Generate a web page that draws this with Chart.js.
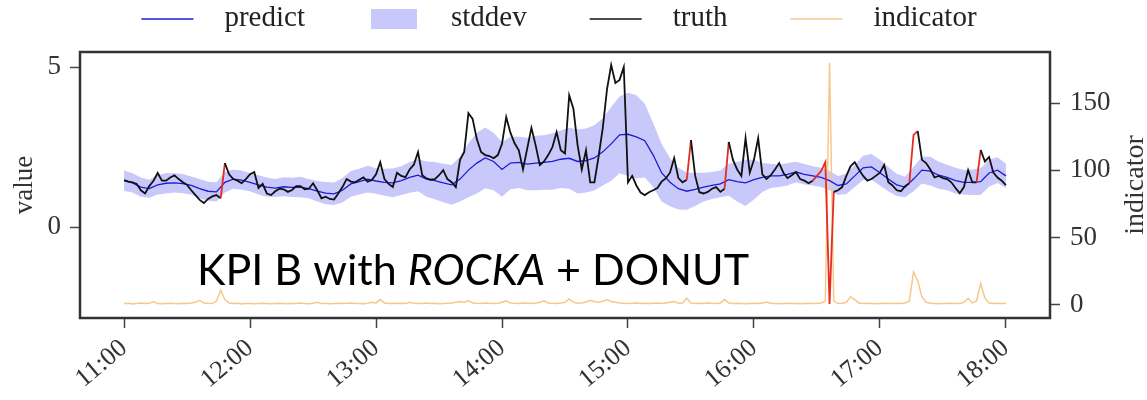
<!DOCTYPE html>
<html>

<head>
  <meta charset="utf-8">
  <title>KPI B with ROCKA + DONUT</title>
  <script src="https://cdn.jsdelivr.net/npm/chart.js"></script>
  <style>
    body {
      margin: 0;
      background: #fff;
    }

    /* fixed size, the picture is 1147x400 */
    #wrap {
      width: 1147px;
      height: 400px;
    }
  </style>
</head>

<body>
  <div id="wrap">
    <canvas id="kpiChart" width="1147" height="400"></canvas>
  </div>

  <script>
    // x axis is minutes after 11:00
    const hourTicks = [0, 60, 120, 180, 240, 300, 360, 420];
    const hourLabels = ['11:00', '12:00', '13:00', '14:00', '15:00', '16:00', '17:00', '18:00'];
    const valueTicks = [0, 5];
    const indicatorTicks = [0, 50, 100, 150];

    // truth + indicator sampled every 2 min, predict + stddev every 4 min
    const FINE_STEP = 2;
    const COARSE_STEP = 4;

    const truth = [
      1.47, 1.42, 1.40, 1.35, 1.15, 1.05, 1.28, 1.45, 1.69, 1.45,
      1.45, 1.55, 1.62, 1.50, 1.40, 1.32, 1.15, 1.00, 0.85, 0.75,
      0.88, 0.96, 1.00, 0.90, 2.00, 1.65, 1.50, 1.45, 1.37, 1.50,
      1.65, 1.72, 1.22, 1.35, 1.05, 1.00, 1.12, 1.20, 1.18, 1.10,
      1.16, 1.28, 1.28, 1.18, 1.20, 1.37, 1.15, 0.90, 0.95, 0.88,
      0.86, 1.05, 1.25, 1.50, 1.42, 1.40, 1.48, 1.55, 1.42, 1.47,
      1.65, 2.03, 1.50, 1.35, 1.25, 1.70, 1.60, 1.56, 1.80, 1.95,
      2.34, 1.62, 1.52, 1.48, 1.50, 1.62, 1.78, 1.50, 1.40, 1.25,
      2.10, 2.35, 3.56, 3.38, 2.75, 2.35, 2.25, 2.22, 2.15, 2.25,
      2.60, 3.44, 2.95, 2.62, 2.40, 1.80, 2.45, 3.10, 2.56, 1.94,
      2.05, 2.25, 2.50, 2.97, 2.40, 2.30, 4.12, 3.70, 2.56, 1.80,
      2.40, 1.40, 1.40, 2.20, 3.10, 4.30, 5.06, 4.50, 4.60, 5.00,
      1.40, 1.60, 1.30, 1.08, 1.00, 1.09, 1.15, 1.22, 1.42, 1.52,
      1.70, 2.16, 1.53, 1.40, 1.48, 2.72, 1.60, 1.09, 1.05, 1.10,
      1.20, 1.25, 1.10, 1.20, 2.66, 2.10, 1.80, 1.60, 2.78, 1.70,
      2.10, 2.78, 1.65, 1.50, 1.62, 1.80, 2.00, 1.70, 1.53, 1.62,
      1.72, 1.50, 1.45, 1.37, 1.45, 1.60, 1.75, 2.03, -2.40, 1.10,
      1.15, 1.25, 1.60, 1.90, 2.03, 1.80, 1.60, 1.45, 1.50, 1.60,
      1.70, 1.94, 1.40, 1.30, 1.15, 1.12, 1.28, 1.37, 2.88, 3.00,
      2.10, 2.00, 1.80, 1.55, 1.60, 1.53, 1.50, 1.40, 1.22, 1.06,
      1.25, 1.78, 1.40, 1.40, 2.41, 2.05, 2.19, 1.70, 1.55, 1.45,
      1.31
    ];

    const indicator = [
      1.0, 1.2, 0.8, 1.0, 1.5, 1.0, 1.2, 2.5, 1.0, 0.8,
      1.0, 1.2, 1.0, 0.9, 1.3, 1.0, 1.5, 2.0, 3.5, 1.5,
      1.2, 1.0, 3.0, 11.0, 4.0, 1.5, 1.0, 1.2, 0.8, 1.0,
      1.1, 0.9, 1.0, 1.3, 1.0, 0.8, 1.0, 1.2, 1.0, 0.9,
      1.1, 1.0, 1.4, 1.0, 0.9, 1.2, 2.0, 1.0, 1.1, 0.9,
      1.0, 1.3, 1.0, 1.2, 1.5, 1.0, 1.1, 0.9, 1.2, 2.0,
      1.5, 4.0, 1.5, 1.0, 1.2, 1.0, 1.3, 1.0, 2.0, 1.2,
      1.0, 1.1, 1.5, 1.0, 1.2, 0.9, 1.0, 1.3, 1.5, 2.0,
      2.5, 2.0, 3.2, 1.5, 1.2, 1.0, 1.5, 1.2, 1.0, 1.3,
      2.0, 3.0, 1.5, 1.2, 1.0, 1.4, 1.2, 1.0, 1.5, 1.8,
      3.0, 1.5, 1.2, 1.0, 1.5, 2.0, 4.5, 2.0, 1.2, 1.5,
      2.2, 3.5, 2.5, 2.0, 2.8, 4.0, 2.5, 2.0, 1.5, 1.2,
      1.0, 1.2, 1.5, 1.0, 1.2, 1.0, 1.3, 1.5, 1.0, 1.5,
      2.0, 2.5, 1.2, 1.5, 5.0, 1.5, 1.0, 1.2, 1.0, 1.5,
      1.2, 1.0, 1.5, 4.0, 1.5, 1.0, 1.2, 1.0, 0.8, 1.0,
      1.2, 1.0, 1.5, 2.2, 1.2, 1.0, 0.8, 1.0, 1.2, 1.0,
      1.0, 0.8, 1.0, 1.2, 1.0, 1.0, 1.5, 3.0, 180.0, 3.0,
      1.0, 1.2, 2.0, 6.0, 4.0, 1.5, 1.0, 1.2, 1.0, 0.8,
      1.0, 1.2, 1.0, 1.0, 1.2, 1.0, 1.5, 3.0, 24.5, 18.0,
      6.0, 2.0, 1.2, 1.0, 0.8, 1.0, 1.0, 1.2, 1.0, 1.0,
      2.0, 5.0, 1.5, 3.0, 16.0, 5.0, 1.5, 1.0, 1.2, 1.0,
      1.0
    ];

    const predict = [
      1.45, 1.38, 1.25, 1.20, 1.32, 1.37, 1.38, 1.36, 1.30, 1.20,
      1.12, 1.10, 1.40, 1.50, 1.47, 1.40, 1.32, 1.25, 1.22, 1.26,
      1.24, 1.25, 1.20, 1.12, 1.06, 1.04, 1.15, 1.35, 1.42, 1.50,
      1.44, 1.40, 1.38, 1.45, 1.55, 1.62, 1.50, 1.45, 1.38, 1.32,
      1.50, 1.78, 2.00, 2.16, 2.05, 1.80, 2.00, 2.02, 1.97, 2.00,
      2.02, 2.05, 2.12, 2.15, 2.05, 2.08, 2.16, 2.35, 2.60, 2.88,
      2.90, 2.82, 2.70, 2.25, 1.70, 1.40, 1.20, 1.12, 1.18, 1.25,
      1.30, 1.35, 1.48, 1.42, 1.38, 1.48, 1.55, 1.60, 1.60, 1.65,
      1.72, 1.65, 1.60, 1.55, 1.45, 1.30, 1.35, 1.60, 1.85, 1.88,
      1.70, 1.50, 1.32, 1.25, 1.50, 1.78, 1.75, 1.62, 1.55, 1.45,
      1.40, 1.40, 1.42, 1.69, 1.78, 1.60
    ];

    const stddev = [
      0.32, 0.30, 0.30, 0.28, 0.30, 0.32, 0.30, 0.30, 0.28, 0.30,
      0.30, 0.30, 0.32, 0.30, 0.30, 0.28, 0.30, 0.30, 0.28, 0.30,
      0.30, 0.32, 0.30, 0.32, 0.35, 0.35, 0.38, 0.40, 0.40, 0.42,
      0.40, 0.42, 0.45, 0.45, 0.48, 0.50, 0.55, 0.58, 0.60, 0.62,
      0.70, 0.85, 0.95, 0.95, 0.90, 0.85, 0.82, 0.80, 0.82, 0.85,
      0.85, 0.88, 0.90, 0.95, 1.00, 1.00, 1.02, 1.05, 1.15, 1.20,
      1.30, 1.30, 1.15, 1.00, 0.90, 0.75, 0.65, 0.58, 0.52, 0.45,
      0.42, 0.42, 0.50, 0.62, 0.72, 0.62, 0.45, 0.38, 0.35, 0.35,
      0.32, 0.32, 0.30, 0.30, 0.30, 0.30, 0.32, 0.35, 0.38, 0.40,
      0.40, 0.38, 0.35, 0.32, 0.38, 0.42, 0.45, 0.42, 0.40, 0.40,
      0.38, 0.40, 0.42, 0.42, 0.40, 0.38
    ];

    // segments of the truth line flagged as anomalies (start index)
    const anomalySegments = [23, 134, 143, 164, 165, 166, 167, 168, 187, 188, 203];

    const captionParts = [
      { text: 'KPI B with ', italic: false },
      { text: 'ROCKA', italic: true },
      { text: ' + DONUT', italic: false }
    ];

    const SERIF = '"Liberation Serif", "DejaVu Serif", serif';
    const RED = 'rgb(228, 45, 30)';
    const BLUE = 'rgb(28, 28, 215)';
    const ORANGE = 'rgb(246, 200, 140)';
    const BAND = 'rgba(110, 110, 245, 0.38)';

    const fine = arr => arr.map((v, i) => ({ x: i * FINE_STEP, y: v }));
    const coarse = arr => arr.map((v, i) => ({ x: i * COARSE_STEP, y: v }));

    // legend drawn by hand so spacing can follow the matplotlib one
    const legendRow = {
      id: 'legendRow',
      afterDraw(chart) {
        const ctx = chart.ctx;
        const items = chart.data.datasets
          .filter(d => d.legendRank !== undefined)
          .sort((a, b) => a.legendRank - b.legendRank);
        const swatchW = 52, gapText = 31, gapItem = 63, rowY = 19;
        ctx.save();
        ctx.font = '29px ' + SERIF;
        const widths = items.map(d => ctx.measureText(d.label).width);
        const total = widths.reduce((s, w) => s + w, 0) + items.length * (swatchW + gapText) + (items.length - 1) * gapItem;
        let x = (chart.chartArea.left + chart.chartArea.right) / 2 - total / 2 - 6;
        items.forEach((d, i) => {
          if (d.legendBox) {
            ctx.fillStyle = d.backgroundColor;
            ctx.fillRect(x + 3, rowY - 10, swatchW - 6, 20);
          } else {
            ctx.strokeStyle = d.borderColor;
            ctx.lineWidth = 1.6;
            ctx.beginPath();
            ctx.moveTo(x, rowY);
            ctx.lineTo(x + swatchW, rowY);
            ctx.stroke();
          }
          ctx.fillStyle = '#222';
          ctx.textBaseline = 'middle';
          ctx.fillText(d.label, x + swatchW + gapText, rowY - 1);
          x += swatchW + gapText + widths[i] + gapItem;
        });
        ctx.restore();
      }
    };

    // frame, right axis title and the caption
    const decorations = {
      id: 'decorations',
      afterDraw(chart) {
        const ctx = chart.ctx;
        const a = chart.chartArea;
        ctx.save();
        ctx.strokeStyle = '#333';
        ctx.lineWidth = 2.5;
        ctx.strokeRect(a.left, a.top, a.right - a.left, a.bottom - a.top);

        ctx.fillStyle = '#333';
        ctx.font = '28px ' + SERIF;
        ctx.textAlign = 'center';
        ctx.textBaseline = 'middle';
        ctx.translate(1136, (a.top + a.bottom) / 2);
        ctx.rotate(-Math.PI / 2);
        ctx.fillText('indicator', 0, 0);
        ctx.restore();

        ctx.save();
        ctx.fillStyle = '#000';
        ctx.textBaseline = 'alphabetic';
        let x = 197;
        captionParts.forEach(p => {
          ctx.font = (p.italic ? 'italic ' : '') + '43px Lato, "Open Sans", sans-serif';
          ctx.fillText(p.text, x, 285);
          x += ctx.measureText(p.text).width;
        });
        ctx.restore();
      }
    };

    const tickGrid = {
      drawOnChartArea: false,
      drawTicks: true,
      tickLength: 10,
      tickColor: '#444',
      tickWidth: 1.5
    };

    const chart = new Chart(document.getElementById('kpiChart'), {
      type: 'line',
      data: {
        datasets: [
          {
            label: 'truth',
            legendRank: 2,
            data: fine(truth),
            borderColor: '#111',
            borderWidth: 1.8,
            pointRadius: 0,
            tension: 0,
            yAxisID: 'y',
            segment: {
              borderColor: c => anomalySegments.includes(c.p0DataIndex) ? RED : undefined
            }
          },
          {
            label: 'predict',
            legendRank: 0,
            data: coarse(predict),
            borderColor: BLUE,
            borderWidth: 1.3,
            pointRadius: 0,
            yAxisID: 'y'
          },
          {
            label: 'indicator',
            legendRank: 3,
            data: fine(indicator),
            borderColor: ORANGE,
            borderWidth: 1.5,
            pointRadius: 0,
            yAxisID: 'y1'
          },
          {
            label: 'stddev',
            legendRank: 1,
            legendBox: true,
            data: coarse(predict.map((p, i) => p + stddev[i])),
            borderWidth: 0,
            borderColor: 'rgba(0,0,0,0)',
            backgroundColor: BAND,
            pointRadius: 0,
            fill: '+1',
            yAxisID: 'y'
          },
          {
            label: 'stddev lower',
            data: coarse(predict.map((p, i) => p - stddev[i])),
            borderWidth: 0,
            borderColor: 'rgba(0,0,0,0)',
            pointRadius: 0,
            fill: false,
            yAxisID: 'y'
          }
        ]
      },
      options: {
        responsive: false,
        animation: false,
        devicePixelRatio: 1,
        layout: {
          padding: { top: 52, left: 0, right: 0, bottom: 0 }
        },
        plugins: {
          legend: { display: false },
          tooltip: { enabled: false }
        },
        scales: {
          x: {
            type: 'linear',
            min: -21,
            max: 441,
            border: { display: false },
            grid: tickGrid,
            afterBuildTicks: s => { s.ticks = hourTicks.map(v => ({ value: v })); },
            afterFit: s => { s.height = 82; },
            ticks: {
              autoSkip: false,
              minRotation: 40,
              maxRotation: 40,
              padding: 5,
              color: '#333',
              font: { family: SERIF, size: 26 },
              callback: v => hourLabels[hourTicks.indexOf(v)]
            }
          },
          y: {
            position: 'left',
            min: -2.84,
            max: 5.47,
            border: { display: false },
            grid: tickGrid,
            afterBuildTicks: s => { s.ticks = valueTicks.map(v => ({ value: v })); },
            afterFit: s => { s.width = 80; },
            ticks: {
              padding: 9,
              color: '#333',
              font: { family: SERIF, size: 27 }
            },
            title: {
              display: true,
              text: 'value',
              color: '#333',
              padding: { top: 9 },
              font: { family: SERIF, size: 27 }
            }
          },
          y1: {
            position: 'right',
            min: -9.7,
            max: 188,
            border: { display: false },
            grid: tickGrid,
            afterBuildTicks: s => { s.ticks = indicatorTicks.map(v => ({ value: v })); },
            afterFit: s => { s.width = 97; },
            ticks: {
              padding: 10,
              color: '#333',
              font: { family: SERIF, size: 27 }
            }
          }
        }
      },
      plugins: [legendRow, decorations]
    });
  </script>
</body>

</html>
